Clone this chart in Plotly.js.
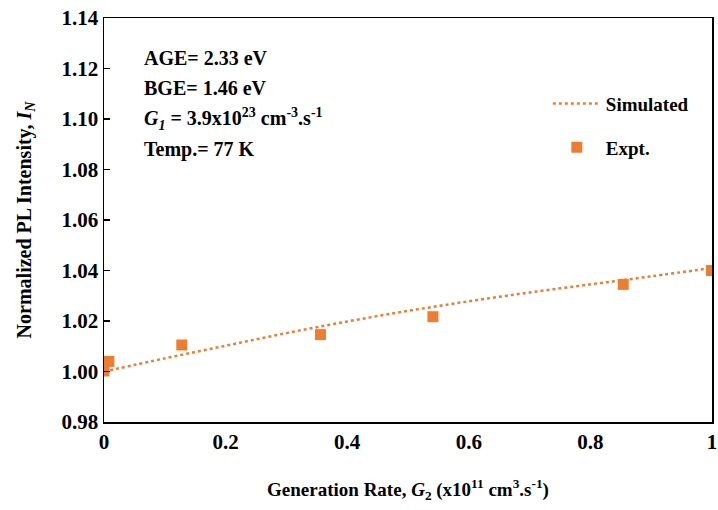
<!DOCTYPE html>
<html>
<head>
<meta charset="utf-8">
<script src="https://cdn.plot.ly/plotly-3.0.1.min.js"></script>
<style>html,body{margin:0;padding:0;background:#fff;}#chart{width:718px;height:510px;}</style>
</head>
<body>
<div id="chart"></div>
<script>
// Simulated curve
var simX = [0, 0.1, 0.2, 0.3, 0.4, 0.5, 0.6, 0.7, 0.8, 0.9, 1.0];
var simY = [1.0000, 1.0052, 1.0102, 1.0152, 1.0198, 1.0240, 1.0278, 1.0313, 1.0345, 1.0377, 1.0410];
// Experimental points
var exptX = [0, 0.008, 0.128, 0.356, 0.541, 0.854, 0.999];
var exptY = [1.0002, 1.0040, 1.0105, 1.0146, 1.0217, 1.0345, 1.0400];
var seriesNames = ["Simulated", "Expt."];
var infoLines = [
  "AGE= 2.33 eV",
  "BGE= 1.46 eV",
  "<i>G<sub>1</sub></i> = 3.9x10<sup>23</sup> cm<sup>-3</sup>.s<sup>-1</sup>",
  "Temp.= 77 K"
];
var orange = "#ED7D31";
var font = "Liberation Serif, Times New Roman, serif";

var traces = [
  {x: simX, y: simY, mode: "lines", name: seriesNames[0], legendgroup: "a",
   line: {color: orange, width: 2.5, dash: "dot", shape: "spline"}},
  {x: exptX, y: exptY, mode: "markers", name: seriesNames[1], legendgroup: "b",
   marker: {color: orange, symbol: "square", size: 11}}
];

var annotations = infoLines.map(function(t, i){
  return {xref: "paper", yref: "paper", x: 0.062, y: 0.902 - i*0.076, xanchor: "left", yanchor: "middle",
          text: "<b>" + t + "</b>", showarrow: false, font: {family: font, size: 20, color: "#000"}};
});

var layout = {
  width: 718, height: 510,
  margin: {l: 104, r: 6, t: 18, b: 88},
  paper_bgcolor: "#fff", plot_bgcolor: "#fff",
  font: {family: font, color: "#000"},
  showlegend: true,
  legend: {x: 0.73, y: 0.835, xanchor: "left", yanchor: "top", traceorder: "grouped", tracegroupgap: 16,
           itemwidth: 48,
           font: {family: font, size: 19, color: "#000", weight: "bold"}, bgcolor: "rgba(0,0,0,0)"},
  xaxis: {range: [0, 1], dtick: 0.2, showgrid: false, zeroline: false,
          showline: true, mirror: true, linecolor: "#000", linewidth: 1.5,
          ticks: "", tickfont: {family: font, size: 21, color: "#000", weight: "bold"},
          title: {text: "<b>Generation Rate, <i>G</i><sub>2</sub> (x10<sup>11</sup> cm<sup>3</sup>.s<sup>-1</sup>)</b>",
                  font: {family: font, size: 19, color: "#000"}, standoff: 30}},
  yaxis: {range: [0.98, 1.14], dtick: 0.02, tickformat: ".2f", showgrid: false, zeroline: false,
          showline: true, mirror: true, linecolor: "#000", linewidth: 1.5,
          ticks: "inside", ticklen: 6, tickwidth: 1.5, tickcolor: "#000",
          tickfont: {family: font, size: 21, color: "#000", weight: "bold"},
          title: {text: "<b>Normalized PL Intensity, <i>I<sub>N</sub></i></b>",
                  font: {family: font, size: 20, color: "#000"}, standoff: 24}},
  annotations: annotations
};

Plotly.newPlot("chart", traces, layout, {displayModeBar: false, staticPlot: true});
</script>
</body>
</html>
